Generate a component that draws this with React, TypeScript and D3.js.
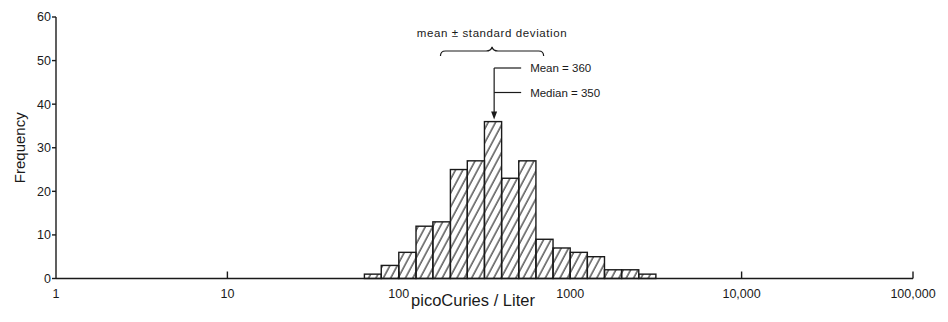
import { useEffect, useRef } from "react"
import * as d3 from "d3"

// bin edges (picoCuries / Liter), log-spaced tenths of a decade
const binEdges = [63, 79, 100, 126, 158, 200, 251, 316, 398, 501, 631, 794, 1000, 1259, 1585, 1995, 2512, 3162]
const frequencies = [1, 3, 6, 12, 13, 25, 27, 36, 23, 27, 9, 7, 6, 5, 2, 2, 1]

const xTickValues = [1, 10, 100, 1000, 10000, 100000]
const xTickLabels = ["1", "10", "100", "1000", "10,000", "100,000"]
const yTickValues = [0, 10, 20, 30, 40, 50, 60]

const meanValue = 360
const medianValue = 350
const sdRange = [175, 700]

const width = 948
const height = 322
const font = "'Liberation Sans', Arial, sans-serif"
const ink = "#1a1a1a"

export default function App() {
  const svgRef = useRef<SVGSVGElement>(null)

  useEffect(() => {
    const svg = d3.select(svgRef.current)
    svg.selectAll("*").remove()

    const x = d3.scaleLog().domain([1, 100000]).range([56, 913])
    const y = d3.scaleLinear().domain([0, 60]).range([278.5, 17])

    // hatch pattern
    const defs = svg.append("defs")
    defs
      .append("pattern")
      .attr("id", "hatch")
      .attr("patternUnits", "userSpaceOnUse")
      .attr("width", 6.5)
      .attr("height", 10)
      .attr("patternTransform", "rotate(28)")
      .append("line")
      .attr("x1", 1)
      .attr("y1", -2)
      .attr("x2", 1)
      .attr("y2", 12)
      .attr("stroke", ink)
      .attr("stroke-width", 1.1)

    // bars
    const bins = frequencies.map((f, i) => ({ x0: binEdges[i], x1: binEdges[i + 1], f }))
    svg
      .append("g")
      .selectAll("rect")
      .data(bins)
      .enter()
      .append("rect")
      .attr("x", (d) => x(d.x0))
      .attr("y", (d) => y(d.f))
      .attr("width", (d) => x(d.x1) - x(d.x0))
      .attr("height", (d) => y(0) - y(d.f))
      .attr("fill", "url(#hatch)")
      .attr("stroke", ink)
      .attr("stroke-width", 1.4)

    // axes
    const axes = svg.append("g").attr("stroke", ink).attr("stroke-width", 1.4)
    axes.append("line").attr("x1", x(1)).attr("x2", x(1)).attr("y1", y(60)).attr("y2", y(0))
    axes.append("line").attr("x1", x(1)).attr("x2", x(100000)).attr("y1", y(0)).attr("y2", y(0))

    axes
      .selectAll(".ytick")
      .data(yTickValues)
      .enter()
      .append("line")
      .attr("x1", x(1) - 4)
      .attr("x2", x(1))
      .attr("y1", (d) => y(d))
      .attr("y2", (d) => y(d))

    axes
      .selectAll(".xtick")
      .data(xTickValues.slice(1))
      .enter()
      .append("line")
      .attr("x1", (d) => x(d))
      .attr("x2", (d) => x(d))
      .attr("y1", y(0))
      .attr("y2", y(0) - 7)

    const labels = svg.append("g").attr("font-family", font).attr("fill", ink)

    labels
      .selectAll(".ylab")
      .data(yTickValues)
      .enter()
      .append("text")
      .attr("x", x(1) - 5)
      .attr("y", (d) => y(d))
      .attr("dy", "0.35em")
      .attr("text-anchor", "end")
      .attr("font-size", 12.5)
      .text((d) => d)

    labels
      .selectAll(".xlab")
      .data(xTickValues)
      .enter()
      .append("text")
      .attr("x", (d) => x(d))
      .attr("y", 298)
      .attr("text-anchor", "middle")
      .attr("font-size", 12.5)
      .text((d, i) => xTickLabels[i])

    labels
      .append("text")
      .attr("x", 473)
      .attr("y", 306)
      .attr("text-anchor", "middle")
      .attr("font-size", 16.5)
      .text("picoCuries / Liter")

    labels
      .append("text")
      .attr("transform", `translate(25,${y(30)}) rotate(-90)`)
      .attr("text-anchor", "middle")
      .attr("font-size", 15)
      .text("Frequency")

    // annotations
    const ann = svg.append("g").attr("stroke", ink).attr("fill", "none").attr("stroke-width", 1.2)
    const bx1 = x(sdRange[0])
    const bx2 = x(sdRange[1])
    const bm = x(Math.sqrt(sdRange[0] * sdRange[1]))
    const by = 51
    ann
      .append("path")
      .attr(
        "d",
        `M${bx1},${by + 5} Q${bx1},${by} ${bx1 + 5},${by} L${bm - 6},${by} Q${bm - 1},${by} ${bm},${by - 4} ` +
          `Q${bm + 1},${by} ${bm + 6},${by} L${bx2 - 5},${by} Q${bx2},${by} ${bx2},${by + 5}`
      )

    const mx = x(meanValue)
    const meanY = 68
    const medianY = 92.5
    const arrowTip = y(36) - 2
    ann.append("line").attr("x1", mx).attr("x2", mx).attr("y1", meanY).attr("y2", arrowTip - 5)
    ann.append("line").attr("x1", mx).attr("x2", mx + 27).attr("y1", meanY).attr("y2", meanY)
    ann.append("line").attr("x1", mx).attr("x2", mx + 27).attr("y1", medianY).attr("y2", medianY)
    svg
      .append("path")
      .attr("d", `M${mx - 3},${arrowTip - 8} L${mx + 3},${arrowTip - 8} L${mx},${arrowTip} Z`)
      .attr("fill", ink)

    labels
      .append("text")
      .attr("x", bm)
      .attr("y", 37)
      .attr("text-anchor", "middle")
      .attr("font-size", 11.5)
      .attr("letter-spacing", 0.6)
      .text("mean \u00b1 standard deviation")

    labels
      .append("text")
      .attr("x", mx + 36)
      .attr("y", meanY)
      .attr("dy", "0.35em")
      .attr("font-size", 11.5)
      .text("Mean = " + meanValue)

    labels
      .append("text")
      .attr("x", mx + 36)
      .attr("y", medianY)
      .attr("dy", "0.35em")
      .attr("font-size", 11.5)
      .text("Median = " + medianValue)
  }, [])

  return (
    <svg
      ref={svgRef}
      width={width}
      height={height}
      style={{ position: "absolute", left: 0, top: 0, background: "#fff" }}
    />
  )
}
